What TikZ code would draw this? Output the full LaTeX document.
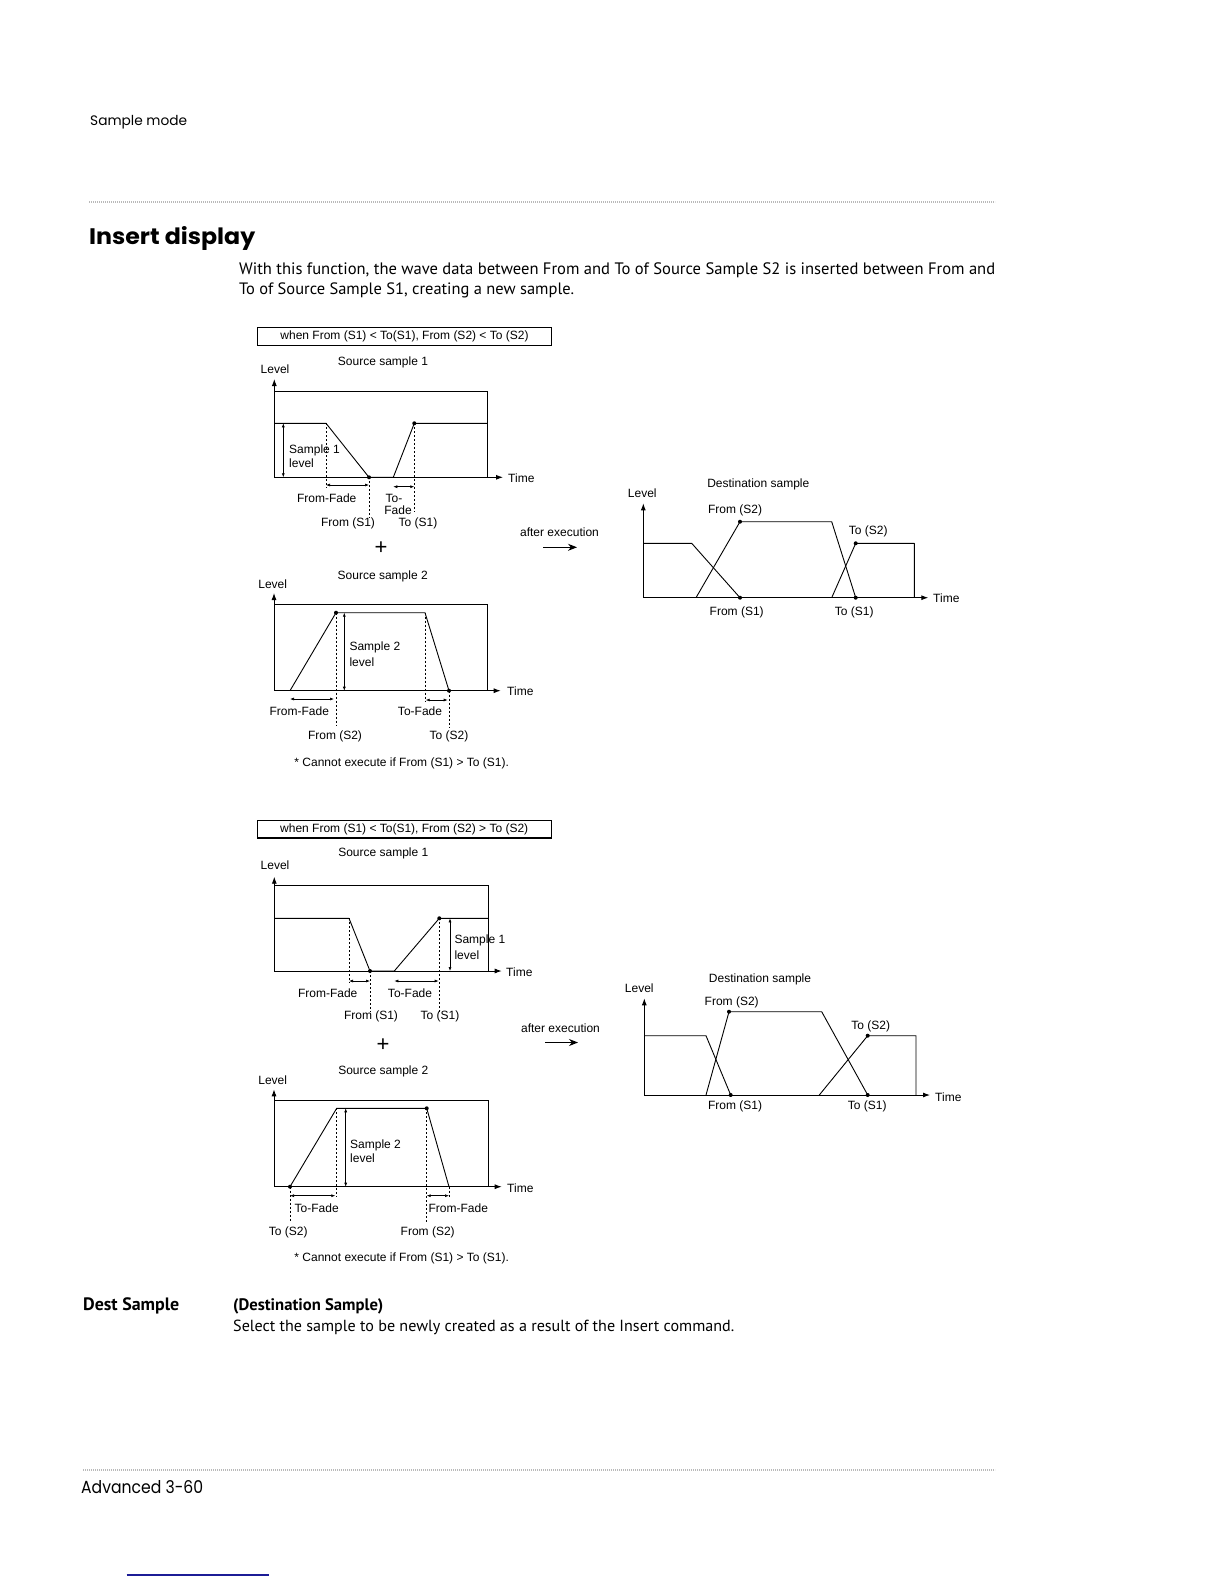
\documentclass[tikz,border=0pt]{standalone}
\usepackage{fontspec}
\usepackage{graphicx}
\usetikzlibrary{arrows.meta}
\newfontfamily\labsans{Liberation Sans}
\newfontfamily\geofont{Poppins}
\newfontfamily\bodyfont{PT Sans}
\definecolor{linkblue}{RGB}{28,28,150}
\newcommand{\fitto}[2]{\resizebox{#1}{!}{#2}}
\tikzset{
  lab/.style={font=\labsans\fontsize{12}{14}\selectfont, inner sep=0pt},
  wave/.style={line width=0.9pt, line join=round},
  axis/.style={line width=0.9pt, -{Latex[length=7pt,width=5pt]}},
  frame/.style={line width=0.9pt},
  guide/.style={line width=0.6pt, dash pattern=on 2pt off 2pt},
  meas/.style={line width=0.6pt, {Latex[length=4pt,width=3pt]}-{Latex[length=4pt,width=3pt]}},
  condbox/.style={draw, line width=1.1pt, inner sep=0pt, minimum height=17.5pt, font=\labsans\fontsize{12}{14}\selectfont},
  bigarrow/.style={line width=1.1pt, -{Stealth[length=9pt,width=7pt]}},
  rulestyle/.style={gray!55, line width=1.4pt, dash pattern=on 0.8pt off 1.2pt},
  dot/.style={circle, fill, inner sep=0pt, minimum size=4pt},
}
\begin{document}
\begin{tikzpicture}[x=1pt,y=-1pt]
\useasboundingbox (0,0) rectangle (1224,1584);

% ---------- page texts ----------
\node[anchor=base west, inner sep=0pt] (hdr) at (90,125.7) {\fitto{97pt}{\geofont\fontsize{13}{15}\selectfont Sample mode}};
\coordinate (r1a) at (89,202); \coordinate (r1b) at (995,202);
\draw[rulestyle] (r1a) -- (r1b);
\node[anchor=base west, inner sep=0pt] (title) at (89,244) {\resizebox{166pt}{18pt}{\geofont\bfseries Insert display}};
\node[anchor=base west, inner sep=0pt] (body1) at (239,274) {\fitto{756pt}{\bodyfont\fontsize{15}{18}\selectfont With this function, the wave data between From and To of Source Sample S2 is inserted between From and}};
\node[anchor=base west, inner sep=0pt] (body2) at (239,294) {\fitto{335pt}{\bodyfont\fontsize{15}{18}\selectfont To of Source Sample S1, creating a new sample.}};

\node[anchor=base west, inner sep=0pt] (dest) at (83,1310) {\fitto{96pt}{\bodyfont\bfseries\fontsize{15}{18}\selectfont Dest Sample}};
\node[anchor=base west, inner sep=0pt] (destlong) at (233,1310) {\fitto{150pt}{\bodyfont\bfseries\fontsize{15}{18}\selectfont (Destination Sample)}};
\node[anchor=base west, inner sep=0pt] (destdesc) at (233,1331) {\fitto{501pt}{\bodyfont\fontsize{15}{18}\selectfont Select the sample to be newly created as a result of the Insert command.}};
\coordinate (r2a) at (83,1470); \coordinate (r2b) at (995,1470);
\draw[rulestyle] (r2a) -- (r2b);
\node[anchor=base west, inner sep=0pt] (foot) at (81,1493) {\resizebox{122pt}{13pt}{\geofont Advanced 3-60}};
\coordinate (bl1) at (126.7,1575); \coordinate (bl2) at (269,1575);
\draw[linkblue, line width=1.3pt] (bl1) -- (bl2);

% ================= FIRST CASE =================
\node[condbox, minimum width=294.4pt] (boxA) at (404.5,336.3) {when From (S1) < To(S1), From (S2) < To (S2)};

% --- Source sample 1 (A) ---
\coordinate (A-o) at (274.3,477.3);
\coordinate (A-y) at (274.3,379);
\coordinate (A-x) at (503,477.3);
\coordinate (A-ft) at (274.3,391.7);
\coordinate (A-fr) at (487.7,391.7);
\coordinate (A-fb) at (487.7,477.3);
\draw[axis] (A-o) -- (A-y);
\draw[axis] (A-o) -- (A-x);
\draw[frame] (A-ft) -- (A-fr) -- (A-fb);
\coordinate (A-w0) at (274.3,423.3);
\coordinate (A-w1) at (326,423.3);
\node[dot] (A-w2) at (369,477.3) {};
\coordinate (A-w3) at (393.3,477.3);
\node[dot] (A-w4) at (414.3,423.3) {};
\coordinate (A-w5) at (487.7,423.3);
\draw[wave] (A-w0) -- (A-w1) -- (A-w2.center) -- (A-w3) -- (A-w4.center) -- (A-w5);
\coordinate (A-m1) at (283.3,423.3); \coordinate (A-m2) at (283.3,477.3);
\draw[meas] (A-m1) -- (A-m2);
\coordinate (A-g1) at (326,488); \draw[guide] (A-w1) -- (A-g1);
\coordinate (A-g2) at (369,518); \draw[guide] (A-w2.center) -- (A-g2);
\coordinate (A-g4) at (414.3,512); \draw[guide] (A-w4.center) -- (A-g4);
\coordinate (A-f1) at (326,485); \coordinate (A-f2) at (369,485);
\draw[meas] (A-f1) -- (A-f2);
\coordinate (A-t1) at (393.3,486.7); \coordinate (A-t2) at (414.3,486.7);
\draw[meas] (A-t1) -- (A-t2);
\node[lab] (A-level) at (275,369) {Level};
\node[lab] (A-title) at (383,362) {Source sample 1};
\node[lab, anchor=west] (A-s1) at (289,450) {Sample 1};
\node[lab, anchor=west] (A-s2) at (289,463.3) {level};
\node[lab, anchor=west] (A-time) at (508,478.3) {Time};
\node[lab] (A-ff) at (326.7,498.3) {From-Fade};
\node[lab] (A-tf1) at (394,498) {To-};
\node[lab] (A-tf2) at (398,510) {Fade};
\node[lab] (A-from) at (348,523) {From (S1)};
\node[lab] (A-to) at (418,523) {To (S1)};

\node[lab, font=\labsans\fontsize{22}{22}\selectfont] (plusA) at (381,548) {+};
\node[lab] (execA) at (559.5,532) {after execution};
\coordinate (ea1) at (543,547.3); \coordinate (ea2) at (577,547.3);
\draw[bigarrow] (ea1) -- (ea2);

% --- Source sample 2 (B) ---
\coordinate (B-o) at (274,690.7);
\coordinate (B-y) at (274,593);
\coordinate (B-x) at (500.7,690.7);
\coordinate (B-ft) at (274,604.3);
\coordinate (B-fr) at (487.7,604.3);
\coordinate (B-fb) at (487.7,690.7);
\draw[axis] (B-o) -- (B-y);
\draw[axis] (B-o) -- (B-x);
\draw[frame] (B-ft) -- (B-fr) -- (B-fb);
\coordinate (B-w0) at (290,690.7);
\node[dot] (B-w1) at (336,612.7) {};
\coordinate (B-w2) at (425,612.7);
\node[dot] (B-w3) at (449,690.7) {};
\draw[wave] (B-w0) -- (B-w1.center) -- (B-w2) -- (B-w3.center);
\coordinate (B-m1) at (344.3,612.7); \coordinate (B-m2) at (344.3,690.7);
\draw[meas] (B-m1) -- (B-m2);
\coordinate (B-g1) at (336,726); \draw[guide] (B-w1.center) -- (B-g1);
\coordinate (B-g2) at (425,701.7); \draw[guide] (B-w2) -- (B-g2);
\coordinate (B-g3) at (449,728); \draw[guide] (B-w3.center) -- (B-g3);
\coordinate (B-f1) at (290,699); \coordinate (B-f2) at (334,699);
\draw[meas] (B-f1) -- (B-f2);
\coordinate (B-t1) at (425.7,700); \coordinate (B-t2) at (447.7,700);
\draw[meas] (B-t1) -- (B-t2);
\node[lab] (B-level) at (272.7,584.3) {Level};
\node[lab] (B-title) at (382.7,576) {Source sample 2};
\node[lab, anchor=west] (B-s1) at (349.3,647.7) {Sample 2};
\node[lab, anchor=west] (B-s2) at (349.3,662.3) {level};
\node[lab, anchor=west] (B-time) at (507,691) {Time};
\node[lab] (B-ff) at (299.3,711) {From-Fade};
\node[lab] (B-tf) at (420,711) {To-Fade};
\node[lab] (B-from) at (335,736.7) {From (S2)};
\node[lab] (B-to) at (449,736.7) {To (S2)};
\node[lab] (B-note) at (401.7,763.3) {* Cannot execute if From (S1) > To (S1).};

% --- Destination (E) ---
\coordinate (E-o) at (643.3,597.7);
\coordinate (E-y) at (643.3,503.3);
\coordinate (E-x) at (928.3,597.7);
\draw[axis] (E-o) -- (E-y);
\draw[axis] (E-o) -- (E-x);
\coordinate (E-a0) at (643.3,543.3);
\coordinate (E-a1) at (691.7,543.3);
\node[dot] (E-a2) at (740,597.7) {};
\draw[wave] (E-a0) -- (E-a1) -- (E-a2.center);
\coordinate (E-b0) at (696,597.7);
\node[dot] (E-b1) at (740,521.7) {};
\coordinate (E-b2) at (831.7,521.7);
\node[dot] (E-b3) at (855.7,597.7) {};
\draw[wave] (E-b0) -- (E-b1.center) -- (E-b2) -- (E-b3.center);
\coordinate (E-c0) at (831.7,597.7);
\node[dot] (E-c1) at (855.7,543.3) {};
\coordinate (E-c2) at (914.3,543.3);
\coordinate (E-c3) at (914.3,597.7);
\draw[wave] (E-c0) -- (E-c1.center) -- (E-c2) -- (E-c3);
\node[lab] (E-title) at (758.3,484) {Destination sample};
\node[lab] (E-level) at (642.3,493.3) {Level};
\node[lab] (E-fs2) at (735,510) {From (S2)};
\node[lab] (E-ts2) at (868.3,531) {To (S2)};
\node[lab] (E-fs1) at (736.7,612.7) {From (S1)};
\node[lab] (E-ts1) at (854.3,612.7) {To (S1)};
\node[lab, anchor=west] (E-time) at (933,598.3) {Time};

% ================= SECOND CASE =================
\node[condbox, minimum width=293.7pt] (boxC) at (404.2,829.2) {when From (S1) < To(S1), From (S2) > To (S2)};

% --- Source sample 1 (C) ---
\coordinate (C-o) at (274.3,971);
\coordinate (C-y) at (274.3,876.7);
\coordinate (C-x) at (501.7,971);
\coordinate (C-ft) at (274.3,885.7);
\coordinate (C-fr) at (488.3,885.7);
\coordinate (C-fb) at (488.3,971);
\draw[axis] (C-o) -- (C-y);
\draw[axis] (C-o) -- (C-x);
\draw[frame] (C-ft) -- (C-fr) -- (C-fb);
\coordinate (C-w0) at (274.3,918.3);
\coordinate (C-w1) at (349,918.3);
\node[dot] (C-w2) at (370,971) {};
\coordinate (C-w3) at (394.3,971);
\node[dot] (C-w4) at (439.3,918.3) {};
\coordinate (C-w5) at (488.3,918.3);
\draw[wave] (C-w0) -- (C-w1) -- (C-w2.center) -- (C-w3) -- (C-w4.center) -- (C-w5);
\coordinate (C-m1) at (450,918.3); \coordinate (C-m2) at (450,971);
\draw[meas] (C-m1) -- (C-m2);
\coordinate (C-g1) at (349,983.3); \draw[guide] (C-w1) -- (C-g1);
\coordinate (C-g2) at (370,1012); \draw[guide] (C-w2.center) -- (C-g2);
\coordinate (C-g4) at (439.3,1012); \draw[guide] (C-w4.center) -- (C-g4);
\coordinate (C-f1) at (349,981); \coordinate (C-f2) at (370,981);
\draw[meas] (C-f1) -- (C-f2);
\coordinate (C-t1) at (394.3,981); \coordinate (C-t2) at (438.7,981);
\draw[meas] (C-t1) -- (C-t2);
\node[lab] (C-level) at (275,865) {Level};
\node[lab] (C-title) at (383.3,853.5) {Source sample 1};
\node[lab, anchor=west] (C-s1) at (454.3,940) {Sample 1};
\node[lab, anchor=west] (C-s2) at (454.3,955) {level};
\node[lab, anchor=west] (C-time) at (506,971.7) {Time};
\node[lab] (C-ff) at (327.7,993.3) {From-Fade};
\node[lab] (C-tf) at (410,993.3) {To-Fade};
\node[lab] (C-from) at (371,1016.5) {From (S1)};
\node[lab] (C-to) at (440,1016.5) {To (S1)};

\node[lab, font=\labsans\fontsize{22}{22}\selectfont] (plusC) at (383,1045.5) {+};
\node[lab] (execC) at (560.5,1028) {after execution};
\coordinate (ec1) at (545,1042.5); \coordinate (ec2) at (578,1042.5);
\draw[bigarrow] (ec1) -- (ec2);

% --- Source sample 2 (D) ---
\coordinate (D-o) at (274,1186.7);
\coordinate (D-y) at (274,1089.3);
\coordinate (D-x) at (501.7,1186.7);
\coordinate (D-ft) at (274,1100.7);
\coordinate (D-fr) at (488.3,1100.7);
\coordinate (D-fb) at (488.3,1186.7);
\draw[axis] (D-o) -- (D-y);
\draw[axis] (D-o) -- (D-x);
\draw[frame] (D-ft) -- (D-fr) -- (D-fb);
\node[dot] (D-w0) at (290,1186.7) {};
\coordinate (D-w1) at (336.7,1108.3);
\node[dot] (D-w2) at (426.7,1108.3) {};
\coordinate (D-w3) at (449,1186.7);
\draw[wave] (D-w0.center) -- (D-w1) -- (D-w2.center) -- (D-w3);
\coordinate (D-m1) at (345.7,1108.3); \coordinate (D-m2) at (345.7,1186.7);
\draw[meas] (D-m1) -- (D-m2);
\coordinate (D-g0) at (290,1221.7); \draw[guide] (D-w0.center) -- (D-g0);
\coordinate (D-g1) at (336.7,1196.7); \draw[guide] (D-w1) -- (D-g1);
\coordinate (D-g2) at (426.7,1221.7); \draw[guide] (D-w2.center) -- (D-g2);
\coordinate (D-g3) at (449,1197); \draw[guide] (D-w3) -- (D-g3);
\coordinate (D-t1) at (290,1195.7); \coordinate (D-t2) at (335.3,1195.7);
\draw[meas] (D-t1) -- (D-t2);
\coordinate (D-f1) at (426.7,1195.7); \coordinate (D-f2) at (449,1195.7);
\draw[meas] (D-f1) -- (D-f2);
\node[lab] (D-level) at (272.7,1080) {Level};
\node[lab] (D-title) at (383.3,1071.7) {Source sample 2};
\node[lab, anchor=west] (D-s1) at (350,1145) {Sample 2};
\node[lab, anchor=west] (D-s2) at (350,1158.3) {level};
\node[lab, anchor=west] (D-time) at (507,1188) {Time};
\node[lab] (D-tf) at (316.7,1207.7) {To-Fade};
\node[lab] (D-ff) at (458.3,1207.7) {From-Fade};
\node[lab] (D-to) at (288.3,1232.7) {To (S2)};
\node[lab] (D-from) at (427.7,1232.7) {From (S2)};
\node[lab] (D-note) at (401.7,1258.3) {* Cannot execute if From (S1) > To (S1).};

% --- Destination (F) ---
\coordinate (F-o) at (644.3,1095);
\coordinate (F-y) at (644.3,998.3);
\coordinate (F-x) at (930,1095);
\draw[axis] (F-o) -- (F-y);
\draw[axis] (F-o) -- (F-x);
\coordinate (F-a0) at (644.3,1035.7);
\coordinate (F-a1) at (706,1035.7);
\node[dot] (F-a2) at (730.7,1095) {};
\draw[wave] (F-a0) -- (F-a1) -- (F-a2.center);
\coordinate (F-b0) at (706,1095);
\node[dot] (F-b1) at (729,1011.7) {};
\coordinate (F-b2) at (821.7,1011.7);
\node[dot] (F-b3) at (867.7,1095) {};
\draw[wave] (F-b0) -- (F-b1.center) -- (F-b2) -- (F-b3.center);
\coordinate (F-c0) at (819.3,1095);
\node[dot] (F-c1) at (867.7,1035.7) {};
\coordinate (F-c2) at (916,1035.7);
\coordinate (F-c3) at (916,1095);
\draw[wave] (F-c0) -- (F-c1.center) -- (F-c2) -- (F-c3);
\node[lab] (F-title) at (760,979.3) {Destination sample};
\node[lab] (F-level) at (639.3,988.3) {Level};
\node[lab] (F-fs2) at (731.7,1002.7) {From (S2)};
\node[lab] (F-ts2) at (870.7,1026.7) {To (S2)};
\node[lab] (F-fs1) at (735,1106.7) {From (S1)};
\node[lab] (F-ts1) at (867.3,1106.7) {To (S1)};
\node[lab, anchor=west] (F-time) at (935,1096.7) {Time};
\end{tikzpicture}
\end{document}
